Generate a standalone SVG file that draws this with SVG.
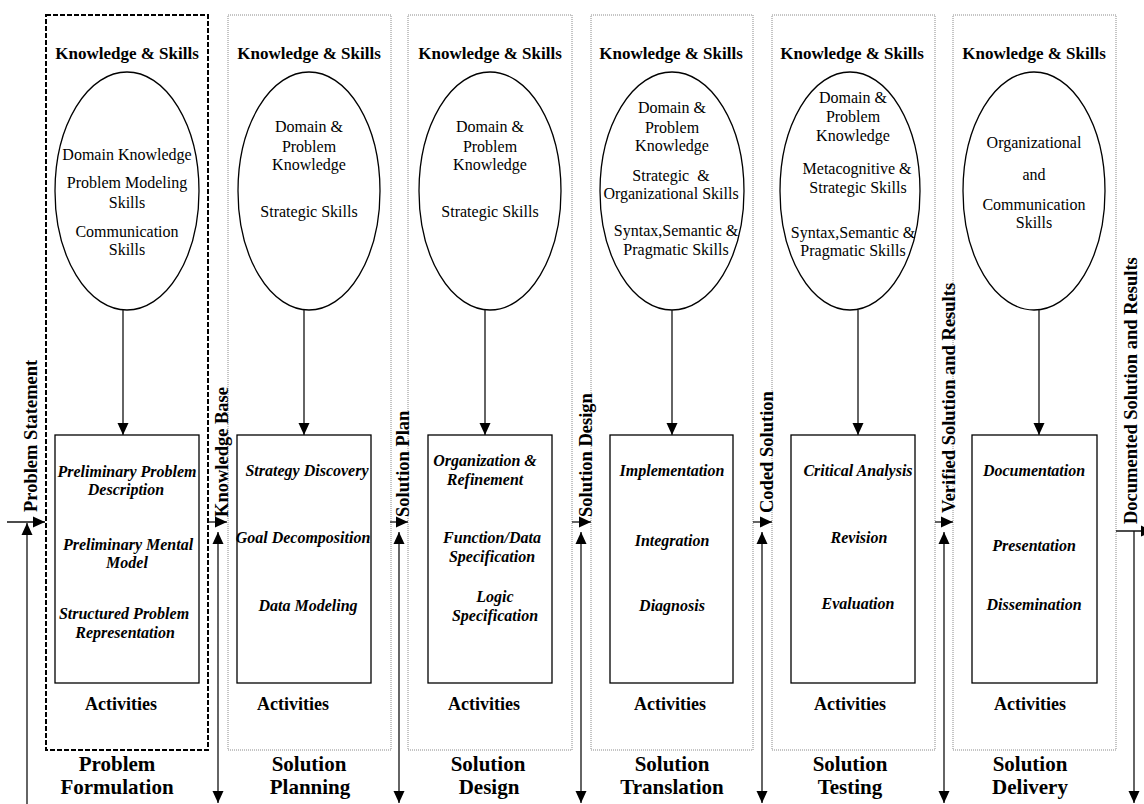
<svg xmlns="http://www.w3.org/2000/svg" width="1144" height="804" viewBox="0 0 1144 804">
<style>
.bg{fill:#fff}
.col{fill:none;stroke:#8a8a8a;stroke-width:1;stroke-dasharray:1 1}
.col1{fill:none;stroke:#000;stroke-width:2;stroke-dasharray:5 2}
.ell{fill:#fff;stroke:#000;stroke-width:1.3}
.box{fill:#fff;stroke:#000;stroke-width:1.3}
.hd{font-family:"Liberation Serif",serif;font-weight:bold;font-size:17px;text-anchor:middle;fill:#000}
.et{font-family:"Liberation Serif",serif;font-size:16px;text-anchor:middle;fill:#000}
.at{font-family:"Liberation Serif",serif;font-weight:bold;font-style:italic;font-size:16px;text-anchor:middle;fill:#000}
.act{font-family:"Liberation Serif",serif;font-weight:bold;font-size:18px;text-anchor:middle;fill:#000}
.ttl{font-family:"Liberation Serif",serif;font-weight:bold;font-size:21px;text-anchor:middle;fill:#000}
.vl{font-family:"Liberation Serif",serif;font-weight:bold;font-size:18.5px;fill:#000}
.ln{fill:none;stroke:#111;stroke-width:1.3}
</style>
<defs>
<marker id="ah" viewBox="0 0 12 12" refX="12" refY="6" markerWidth="12" markerHeight="12" markerUnits="userSpaceOnUse" orient="auto-start-reverse">
<path d="M0,0.5 L12,6 L0,11.5 z" fill="#000"/>
</marker>
</defs>
<rect class="bg" x="0" y="0" width="1144" height="804"/>

<g id="col1">
<rect class="col1" x="46" y="15" width="162" height="735"/>
<text class="hd" x="127" y="59">Knowledge &amp; Skills</text>
<ellipse class="ell" cx="127" cy="191" rx="72" ry="119"/>
<text class="et" x="127" y="160">Domain Knowledge</text>
<text class="et" x="127" y="188">Problem Modeling</text>
<text class="et" x="127" y="208">Skills</text>
<text class="et" x="127" y="237">Communication</text>
<text class="et" x="127" y="255">Skills</text>
<rect class="box" x="55" y="435" width="144" height="248"/>
<text class="at" x="127" y="477">Preliminary Problem</text>
<text class="at" x="126" y="495">Description</text>
<text class="at" x="128" y="550">Preliminary Mental</text>
<text class="at" x="127" y="568">Model</text>
<text class="at" x="124" y="619">Structured Problem</text>
<text class="at" x="125" y="638">Representation</text>
<text class="act" x="121" y="710">Activities</text>
<text class="ttl"><tspan x="117" y="771">Problem</tspan><tspan x="117" y="794">Formulation</tspan></text>
</g>

<g id="col2">
<rect class="col" x="228" y="15" width="163" height="735"/>
<text class="hd" x="309" y="59">Knowledge &amp; Skills</text>
<ellipse class="ell" cx="309" cy="191" rx="71" ry="119"/>
<text class="et" x="309" y="132">Domain &amp;</text>
<text class="et" x="309" y="152">Problem</text>
<text class="et" x="309" y="170">Knowledge</text>
<text class="et" x="309" y="217">Strategic Skills</text>
<rect class="box" x="237" y="435" width="134" height="248"/>
<text class="at" x="307" y="476">Strategy Discovery</text>
<text class="at" x="303" y="543">Goal Decomposition</text>
<text class="at" x="308" y="611">Data Modeling</text>
<text class="act" x="293" y="710">Activities</text>
<text class="ttl"><tspan x="309" y="771">Solution</tspan><tspan x="310" y="794">Planning</tspan></text>
</g>

<g id="col3">
<rect class="col" x="408" y="15" width="164" height="735"/>
<text class="hd" x="490" y="59">Knowledge &amp; Skills</text>
<ellipse class="ell" cx="490" cy="191" rx="71" ry="119"/>
<text class="et" x="490" y="132">Domain &amp;</text>
<text class="et" x="490" y="152">Problem</text>
<text class="et" x="490" y="170">Knowledge</text>
<text class="et" x="490" y="217">Strategic Skills</text>
<rect class="box" x="428" y="435" width="124" height="248"/>
<text class="at" x="485" y="466">Organization &amp;</text>
<text class="at" x="485" y="485">Refinement</text>
<text class="at" x="492" y="543">Function/Data</text>
<text class="at" x="492" y="562">Specification</text>
<text class="at" x="495" y="602">Logic</text>
<text class="at" x="495" y="621">Specification</text>
<text class="act" x="484" y="710">Activities</text>
<text class="ttl"><tspan x="488" y="771">Solution</tspan><tspan x="489" y="794">Design</tspan></text>
</g>

<g id="col4">
<rect class="col" x="591" y="15" width="162" height="735"/>
<text class="hd" x="671" y="59">Knowledge &amp; Skills</text>
<ellipse class="ell" cx="672" cy="191" rx="72" ry="119"/>
<text class="et" x="672" y="113">Domain &amp;</text>
<text class="et" x="672" y="133">Problem</text>
<text class="et" x="672" y="151">Knowledge</text>
<text class="et" x="671" y="181" xml:space="preserve">Strategic  &amp;</text>
<text class="et" x="671" y="199">Organizational Skills</text>
<text class="et" x="676" y="236">Syntax,Semantic &amp;</text>
<text class="et" x="676" y="255">Pragmatic Skills</text>
<rect class="box" x="610" y="435" width="123" height="248"/>
<text class="at" x="672" y="476">Implementation</text>
<text class="at" x="672" y="546">Integration</text>
<text class="at" x="672" y="611">Diagnosis</text>
<text class="act" x="670" y="710">Activities</text>
<text class="ttl"><tspan x="672" y="771">Solution</tspan><tspan x="672" y="794">Translation</tspan></text>
</g>

<g id="col5">
<rect class="col" x="772" y="15" width="163" height="735"/>
<text class="hd" x="852" y="59">Knowledge &amp; Skills</text>
<ellipse class="ell" cx="850" cy="191" rx="70" ry="119"/>
<text class="et" x="853" y="103">Domain &amp;</text>
<text class="et" x="853" y="122">Problem</text>
<text class="et" x="853" y="141">Knowledge</text>
<text class="et" x="857" y="174">Metacognitive &amp;</text>
<text class="et" x="858" y="193">Strategic Skills</text>
<text class="et" x="853" y="238">Syntax,Semantic &amp;</text>
<text class="et" x="853" y="256">Pragmatic Skills</text>
<rect class="box" x="791" y="435" width="124" height="248"/>
<text class="at" x="858" y="476">Critical Analysis</text>
<text class="at" x="859" y="543">Revision</text>
<text class="at" x="858" y="609">Evaluation</text>
<text class="act" x="850" y="710">Activities</text>
<text class="ttl"><tspan x="850" y="771">Solution</tspan><tspan x="850" y="794">Testing</tspan></text>
</g>

<g id="col6">
<rect class="col" x="953" y="15" width="163" height="735"/>
<text class="hd" x="1034" y="59">Knowledge &amp; Skills</text>
<ellipse class="ell" cx="1034" cy="191" rx="71" ry="119"/>
<text class="et" x="1034" y="148">Organizational</text>
<text class="et" x="1034" y="180">and</text>
<text class="et" x="1034" y="210">Communication</text>
<text class="et" x="1034" y="228">Skills</text>
<rect class="box" x="972" y="435" width="125" height="248"/>
<text class="at" x="1034" y="476">Documentation</text>
<text class="at" x="1034" y="551">Presentation</text>
<text class="at" x="1034" y="610">Dissemination</text>
<text class="act" x="1030" y="710">Activities</text>
<text class="ttl"><tspan x="1030" y="771">Solution</tspan><tspan x="1030" y="794">Delivery</tspan></text>
</g>

<g id="flow-labels">
<text class="vl" transform="translate(37,512) rotate(-90)">Problem Statement</text>
<text class="vl" transform="translate(228,517) rotate(-90)">Knowledge Base</text>
<text class="vl" transform="translate(409,517) rotate(-90)">Solution Plan</text>
<text class="vl" transform="translate(592,517) rotate(-90)">Solution Design</text>
<text class="vl" transform="translate(773,513) rotate(-90)">Coded Solution</text>
<text class="vl" transform="translate(955,513) rotate(-90)">Verified Solution and Results</text>
<text class="vl" transform="translate(1137,524) rotate(-90)">Documented Solution and Results</text>
</g>

<g id="connectors">
<line class="ln" x1="123" y1="310" x2="123" y2="435" marker-end="url(#ah)"/>
<line class="ln" x1="304" y1="310" x2="304" y2="435" marker-end="url(#ah)"/>
<line class="ln" x1="485" y1="310" x2="485" y2="435" marker-end="url(#ah)"/>
<line class="ln" x1="672" y1="310" x2="672" y2="435" marker-end="url(#ah)"/>
<line class="ln" x1="858" y1="310" x2="858" y2="435" marker-end="url(#ah)"/>
<line class="ln" x1="1039" y1="310" x2="1039" y2="435" marker-end="url(#ah)"/>

<line class="ln" x1="7" y1="522" x2="45" y2="522" marker-end="url(#ah)"/>
<line class="ln" x1="27" y1="804" x2="27" y2="523" marker-end="url(#ah)"/>

<line class="ln" x1="208" y1="522" x2="227" y2="522" marker-end="url(#ah)"/>
<line class="ln" x1="218" y1="532" x2="218" y2="803" marker-start="url(#ah)" marker-end="url(#ah)"/>
<line class="ln" x1="390" y1="522" x2="408" y2="522" marker-end="url(#ah)"/>
<line class="ln" x1="399" y1="532" x2="399" y2="803" marker-start="url(#ah)" marker-end="url(#ah)"/>
<line class="ln" x1="572" y1="522" x2="591" y2="522" marker-end="url(#ah)"/>
<line class="ln" x1="581" y1="532" x2="581" y2="803" marker-start="url(#ah)" marker-end="url(#ah)"/>
<line class="ln" x1="753" y1="522" x2="772" y2="522" marker-end="url(#ah)"/>
<line class="ln" x1="762" y1="532" x2="762" y2="803" marker-start="url(#ah)" marker-end="url(#ah)"/>
<line class="ln" x1="935" y1="522" x2="953" y2="522" marker-end="url(#ah)"/>
<line class="ln" x1="944" y1="532" x2="944" y2="803" marker-start="url(#ah)" marker-end="url(#ah)"/>

<line class="ln" x1="1116" y1="531" x2="1153" y2="531" marker-end="url(#ah)"/>
<line class="ln" x1="1134" y1="531" x2="1134" y2="803" marker-end="url(#ah)"/>
</g>
</svg>
